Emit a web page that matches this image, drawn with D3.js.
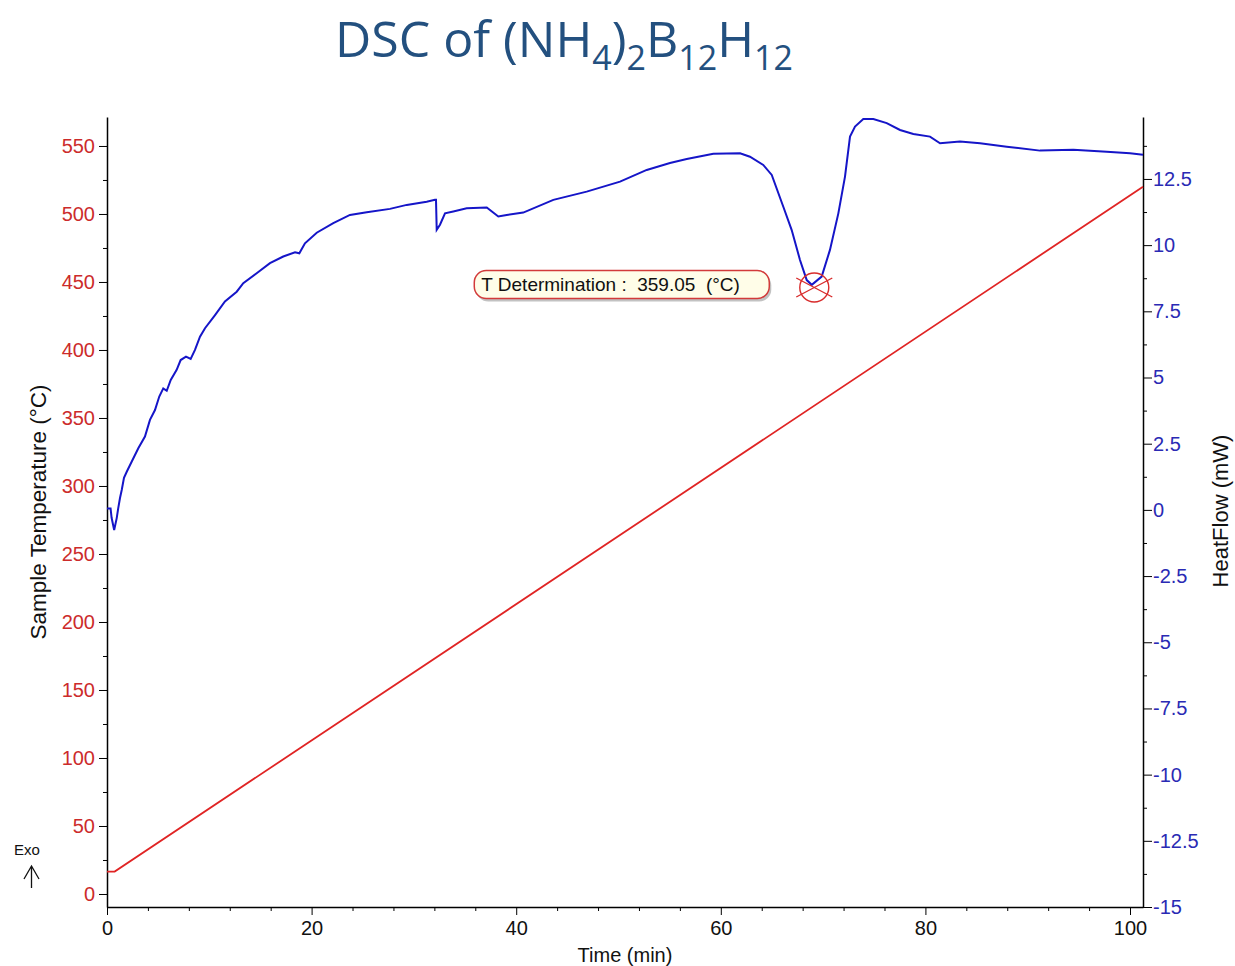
<!DOCTYPE html>
<html>
<head>
<meta charset="utf-8">
<script src="https://cdn.jsdelivr.net/npm/d3@7"></script>
<style>
  body { margin: 0; background: #ffffff; }
  svg { display: block; }
</style>
</head>
<body>
<svg id="chart" width="1235" height="966"></svg>
<script>
// ---- data ----------------------------------------------------------------
const timeTicks = [0, 20, 40, 60, 80, 100];
const timeMinorTicks = [4, 8, 12, 16, 24, 28, 32, 36, 44, 48, 52, 56, 64, 68, 72, 76, 84, 88, 92, 96];
const tempTicks = [0, 50, 100, 150, 200, 250, 300, 350, 400, 450, 500, 550];
const tempMinorTicks = [25, 75, 125, 175, 225, 275, 325, 375, 425, 475, 525];
const heatTicks = [-15, -12.5, -10, -7.5, -5, -2.5, 0, 2.5, 5, 7.5, 10, 12.5];
const heatMinorTicks = [-13.75, -11.25, -8.75, -6.25, -3.75, -1.25, 1.25, 3.75, 6.25, 8.75, 11.25, 13.75];

// sample temperature programme (°C) against time (min)
const tempTime  = [0, 0.75, 101.27];
const tempValue = [16.5, 16.5, 520];

// heat flow signal (mW) against time (min)
const hfTime = [
  0, 0.35, 0.45, 0.7, 0.95, 1.1, 1.27, 1.44, 1.66, 1.93, 2.41, 3.06, 3.71, 4.2, 4.69,
  5.11, 5.5, 5.84, 6.23, 6.81, 7.2, 7.72, 8.18, 8.6, 9.09, 9.58, 10.56, 11.53, 12.68,
  13.32, 14.63, 15.93, 17.23, 18.38, 18.8, 19.35, 20.5, 22.12, 23.75, 25.39, 27.66,
  29.3, 31.25, 32.06, 32.16, 32.23, 32.55, 33.04, 33.85, 35.16, 37.12, 38.25, 39.07,
  40.69, 43.63, 46.89, 50.15, 52.76, 55.03, 56.67, 59.27, 61.88, 62.85, 64.15, 64.98,
  66.11, 66.93, 67.74, 68.4, 68.89, 69.86, 70.67, 71.49, 72.14, 72.63, 73.12, 73.93,
  74.91, 76.22, 77.52, 78.82, 80.45, 81.43, 83.38, 85.34, 87.95, 91.2, 94.46, 97.72,
  100, 101.27
];
const hfValue = [
  0.05, 0.05, -0.3, -0.76, -0.31, 0.07, 0.45, 0.75, 1.21, 1.44, 1.82, 2.33, 2.77, 3.4, 3.77,
  4.28, 4.59, 4.5, 4.91, 5.29, 5.66, 5.79, 5.7, 6.04, 6.54, 6.86, 7.36, 7.87, 8.24,
  8.56, 8.94, 9.32, 9.57, 9.73, 9.69, 10.07, 10.47, 10.83, 11.14, 11.24, 11.37,
  11.52, 11.64, 11.71, 11.71, 10.58, 10.77, 11.2, 11.27, 11.39, 11.42, 11.08, 11.14,
  11.23, 11.71, 12.02, 12.4, 12.84, 13.1, 13.25, 13.45, 13.47, 13.34, 13.03, 12.65,
  11.45, 10.57, 9.44, 8.68, 8.5, 8.81, 9.82, 11.2, 12.59, 14.1, 14.48, 14.76,
  14.76, 14.61, 14.35, 14.2, 14.1, 13.85, 13.91, 13.85, 13.72, 13.57, 13.6, 13.53,
  13.47, 13.41
];

const determinationTemp = 359.05;
const determinationHeatFlow = 8.4;

// ---- layout --------------------------------------------------------------
const plot = { left: 107, right: 1143, top: 117, bottom: 907 };
const tickFont = "Liberation Sans, Arial, sans-serif";
const redText = "#cc2b2b";
const blueText = "#2a2ab4";

const svg = d3.select("#chart");

const x = d3.scaleLinear().domain([0, 101.27]).range([plot.left, plot.right]);
const yTemp = d3.scaleLinear().domain([-9.56, 571.3]).range([plot.bottom, plot.top]);
const yHeat = d3.scaleLinear().domain([-15, 14.84]).range([plot.bottom, plot.top]);

// ---- title ---------------------------------------------------------------
const title = svg.append("text")
  .attr("x", 335).attr("y", 57)
  .attr("fill", "#23507f")
  .style("font-family", "Open Sans, Noto Sans, sans-serif")
  .style("font-size", "50px");
const titleParts = [
  ["DSC of (NH", false], ["4", true], [")", false], ["2", true],
  ["B", false], ["12", true], ["H", false], ["12", true]
];
titleParts.forEach(([txt, sub], i) => {
  const t = title.append("tspan").text(txt);
  if (sub) t.attr("dy", 13).style("font-size", "34px");
  else if (i > 0) t.attr("dy", -13);
});

// ---- axes ----------------------------------------------------------------
function styleTicks(g, color) {
  g.selectAll(".tick line").attr("stroke", "#000");
  g.selectAll(".tick text")
    .attr("fill", color)
    .style("font-family", tickFont)
    .style("font-size", "20px");
  g.select(".domain").attr("stroke", "#000").attr("stroke-width", 1.5);
}

// bottom (time)
const gx = svg.append("g").attr("transform", `translate(0,${plot.bottom})`)
  .call(d3.axisBottom(x).tickValues(timeTicks).tickSize(8).tickSizeOuter(0).tickPadding(6)
    .tickFormat(d => String(d)));
styleTicks(gx, "#111");
svg.append("g").attr("transform", `translate(0,${plot.bottom})`)
  .call(d3.axisBottom(x).tickValues(timeMinorTicks).tickSize(4).tickSizeOuter(0).tickFormat(""))
  .call(g => g.select(".domain").remove())
  .call(g => g.selectAll(".tick line").attr("stroke", "#000"));

// left (sample temperature)
const gl = svg.append("g").attr("transform", `translate(${plot.left},0)`)
  .call(d3.axisLeft(yTemp).tickValues(tempTicks).tickSize(8).tickSizeOuter(0).tickPadding(4)
    .tickFormat(d => String(d)));
styleTicks(gl, redText);
svg.append("g").attr("transform", `translate(${plot.left},0)`)
  .call(d3.axisLeft(yTemp).tickValues(tempMinorTicks).tickSize(4).tickSizeOuter(0).tickFormat(""))
  .call(g => g.select(".domain").remove())
  .call(g => g.selectAll(".tick line").attr("stroke", "#000"));

// right (heat flow)
const gr = svg.append("g").attr("transform", `translate(${plot.right},0)`)
  .call(d3.axisRight(yHeat).tickValues(heatTicks).tickSize(9).tickSizeOuter(0).tickPadding(1)
    .tickFormat(d => String(d)));
styleTicks(gr, blueText);
svg.append("g").attr("transform", `translate(${plot.right},0)`)
  .call(d3.axisRight(yHeat).tickValues(heatMinorTicks).tickSize(4).tickSizeOuter(0).tickFormat(""))
  .call(g => g.select(".domain").remove())
  .call(g => g.selectAll(".tick line").attr("stroke", "#000"));

// axis titles
svg.append("text")
  .attr("transform", `translate(46,512) rotate(-90)`)
  .attr("text-anchor", "middle")
  .style("font-family", tickFont).style("font-size", "22.5px")
  .attr("fill", "#111")
  .text("Sample Temperature (°C)");

svg.append("text")
  .attr("transform", `translate(1228,511) rotate(-90)`)
  .attr("text-anchor", "middle")
  .style("font-family", tickFont).style("font-size", "22px")
  .attr("fill", "#111")
  .text("HeatFlow (mW)");

svg.append("text")
  .attr("x", 625).attr("y", 962)
  .attr("text-anchor", "middle")
  .style("font-family", tickFont).style("font-size", "20px")
  .attr("fill", "#111")
  .text("Time (min)");

// exothermic direction marker
svg.append("text")
  .attr("x", 27).attr("y", 855)
  .attr("text-anchor", "middle")
  .style("font-family", tickFont).style("font-size", "15px")
  .attr("fill", "#111")
  .text("Exo");
svg.append("path")
  .attr("d", "M31.5,888 L31.5,866 M24,879 L31.5,866 L39,879")
  .attr("fill", "none").attr("stroke", "#111").attr("stroke-width", 1.3);

// ---- series --------------------------------------------------------------
const tempData = tempTime.map((t, i) => [t, tempValue[i]]);
const hfData = hfTime.map((t, i) => [t, hfValue[i]]);

svg.append("path")
  .datum(tempData)
  .attr("fill", "none")
  .attr("stroke", "#e02424")
  .attr("stroke-width", 1.8)
  .attr("d", d3.line().x(d => x(d[0])).y(d => yTemp(d[1])));

svg.append("path")
  .datum(hfData)
  .attr("fill", "none")
  .attr("stroke", "#1515c8")
  .attr("stroke-width", 2)
  .attr("d", d3.line().x(d => x(d[0])).y(d => yHeat(d[1])));

// ---- T determination marker ---------------------------------------------
const tAtDetermination = d3.scaleLinear().domain(tempValue.slice(1)).range(tempTime.slice(1))(determinationTemp);
const mx = x(tAtDetermination);
const my = yHeat(determinationHeatFlow);

const mark = svg.append("g").attr("transform", `translate(${mx},${my})`)
  .attr("fill", "none").attr("stroke", "#d82c2c").attr("stroke-width", 1.4);
mark.append("circle").attr("r", 14.5);
mark.append("path").attr("d", "M-18,-9.5 L18,9.5 M-18,9.5 L18,-9.5");

// label box
const boxW = 295, boxH = 28;
const bx = mx - 45 - boxW, by = my - 3 - boxH / 2;
const label = svg.append("g").attr("transform", `translate(${bx},${by})`);
label.append("rect")
  .attr("x", 2).attr("y", 3).attr("width", boxW).attr("height", boxH)
  .attr("rx", 12).attr("fill", "#a8a8a8").attr("opacity", 0.7);
label.append("rect")
  .attr("width", boxW).attr("height", boxH)
  .attr("rx", 12).attr("fill", "#fffde8")
  .attr("stroke", "#d23a3a").attr("stroke-width", 1.5);
label.append("text")
  .attr("x", 7).attr("y", 21)
  .style("font-family", tickFont).style("font-size", "19px")
  .style("white-space", "pre")
  .attr("fill", "#111")
  .text(`T Determination :  ${determinationTemp.toFixed(2)}  (°C)`);
</script>
</body>
</html>
